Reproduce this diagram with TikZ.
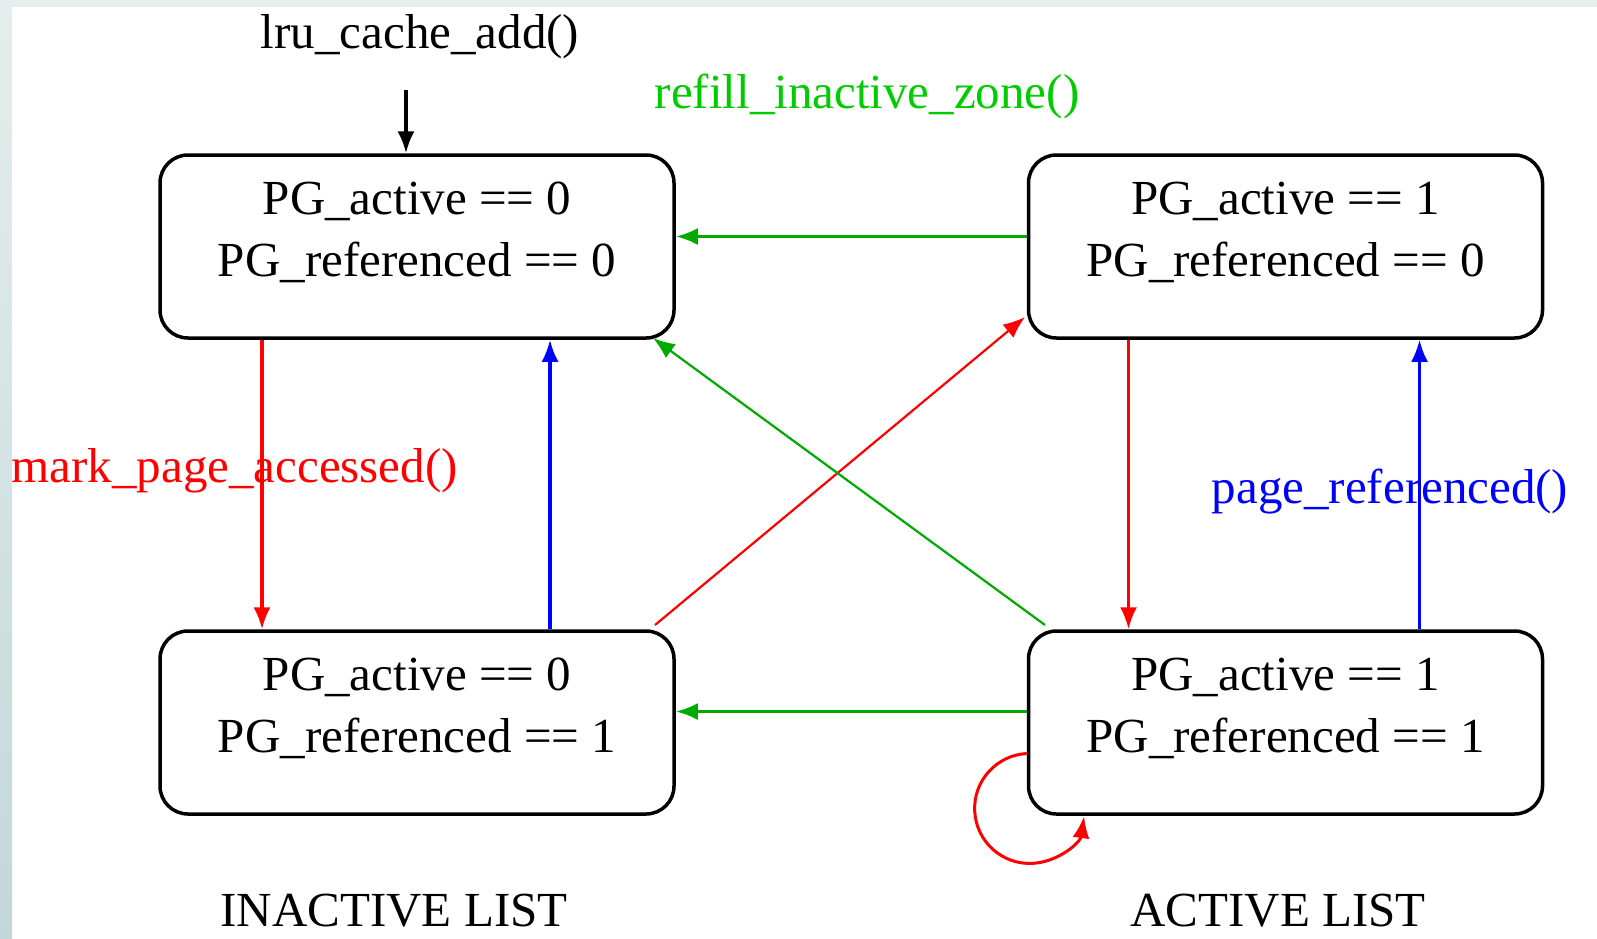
\documentclass[tikz,border=0pt]{standalone}
\usepackage{fontspec}
\setmainfont{Liberation Serif}
\usetikzlibrary{arrows.meta}

\definecolor{gvgreen}{RGB}{0,170,0}
\definecolor{gvlabelgreen}{RGB}{0,204,0}
\definecolor{bandtop}{RGB}{228,238,236}
\definecolor{bandbottom}{RGB}{195,215,217}

\newcommand{\pgbits}[2]{\begin{tabular}{@{}c@{}}PG\_active == #1\\PG\_referenced == #2\end{tabular}}

\begin{document}
\begin{tikzpicture}[
    x=1pt, y=1pt,
    every node/.style={font=\fontsize{49}{62}\selectfont, inner sep=0pt},
    pagestate/.style={draw, line width=3.5pt, rounded corners=28pt, minimum width=514pt, minimum height=183pt, text height=53pt, text depth=67pt},
    flow/.style={line width=3.2pt, -{Latex[length=22pt, width=17pt]}},
    cross/.style={line width=2.2pt, -{Latex[length=22pt, width=17pt]}},
    callname/.style={anchor=base}
]
% Page size
\useasboundingbox (0,0) rectangle (1597,-938);

% The four page states
\node[pagestate] (s00) at (417,-246.5) {\pgbits{0}{0}};
\node[pagestate] (s10) at (1285.5,-246.5) {\pgbits{1}{0}};
\node[pagestate] (s01) at (417,-722.5) {\pgbits{0}{1}};
\node[pagestate] (s11) at (1285.5,-722.5) {\pgbits{1}{1}};

% Transitions
\coordinate (lrufrom) at (406,-90);
\draw[flow] (lrufrom) -- (lrufrom |- s00.north);

\draw[flow, red] ([xshift=-155pt]s00.south) -- ([xshift=-155pt]s01.north);
\draw[flow, blue] ([xshift=133pt]s01.north) -- ([xshift=133pt]s00.south);
\draw[flow, red] ([xshift=-157pt]s10.south) -- ([xshift=-157pt]s11.north);
\draw[flow, blue] ([xshift=134pt]s11.north) -- ([xshift=134pt]s10.south);

\draw[flow, gvgreen] ([yshift=10pt]s10.west) -- ([yshift=10pt]s00.east);
\draw[flow, gvgreen] ([yshift=11pt]s11.west) -- ([yshift=11pt]s01.east);

\draw[cross, red] ([shift={(238,97.5)}]s01.center) -- ([shift={(-260.5,-70.5)}]s10.center);
\draw[cross, gvgreen] ([shift={(-240.5,97.5)}]s11.center) -- ([shift={(236,-91.5)}]s00.center);

\draw[line width=3pt, red, -{Latex[length=22pt, width=17pt]}] ([yshift=-31pt]s11.west) arc[start angle=93, end angle=352, radius=55pt];

% Function names
\node[callname] (lruadd) at (420,-48) {lru\_cache\_add()};
\node[callname, text=gvlabelgreen] (refill) at (867,-108) {refill\_inactive\_zone()};
\node[anchor=base east, text=red] (markacc) at (458,-482) {mark\_page\_accessed()};
\node[callname, text=blue] (pageref) at (1390,-503) {page\_referenced()};

% List names
\node[callname] (inactive) at (394,-926) {INACTIVE LIST};
\node[callname] (active) at (1278,-926) {ACTIVE LIST};

% Frame bands
\fill[bandtop] (0,0) rectangle (1597,-7);
\shade[top color=bandtop, bottom color=bandbottom] (0,0) rectangle (12,-938);

\end{tikzpicture}
\end{document}
